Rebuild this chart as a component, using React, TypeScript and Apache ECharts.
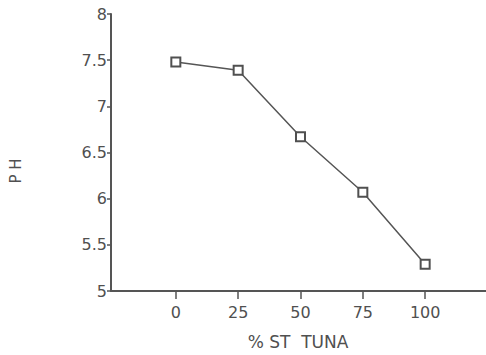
import React, { useEffect, useRef } from "react";
import * as echarts from "echarts";

const xValues = [0, 25, 50, 75, 100];
const phValues = [7.48, 7.39, 6.67, 6.07, 5.29];
const xTicks = [0, 25, 50, 75, 100];
const yTicks = [5, 5.5, 6, 6.5, 7, 7.5, 8];

export default function App() {
  const ref = useRef<HTMLDivElement>(null);
  useEffect(() => {
    if (!ref.current) return;
    const chart = echarts.init(ref.current, null, { renderer: "svg" });
    const axisColor = "#555";
    const textColor = "#505050";
    const font = "DejaVu Sans";
    chart.setOption({
      animation: false,
      backgroundColor: "#fff",
      grid: { left: 111, right: 0, top: 14, bottom: 64 },
      xAxis: {
        type: "value",
        min: -26,
        max: 124.4,
        splitLine: { show: false },
        axisLine: { show: true, onZero: false, lineStyle: { color: axisColor, width: 2 } },
        axisTick: {
          show: true,
          customValues: xTicks,
          length: 8,
          inside: false,
          lineStyle: { color: axisColor, width: 1.5 },
        },
        axisLabel: {
          customValues: xTicks,
          color: textColor,
          fontFamily: font,
          fontSize: 16,
          margin: 13,
        },
      },
      yAxis: {
        type: "value",
        min: 5,
        max: 8,
        interval: 0.5,
        splitLine: { show: false },
        axisLine: { show: true, onZero: false, lineStyle: { color: axisColor, width: 2 } },
        axisTick: { show: true, length: 4, lineStyle: { color: axisColor, width: 1.5 } },
        axisLabel: {
          color: textColor,
          fontFamily: font,
          fontSize: 16,
          margin: 4,
          formatter: (v: number) => (yTicks.includes(v) ? String(v) : ""),
        },
      },
      graphic: [
        {
          type: "text",
          x: 16,
          y: 171,
          rotation: Math.PI / 2,
          style: {
            text: "P H",
            fill: textColor,
            font: `15px "${font}"`,
            align: "center",
            verticalAlign: "middle",
          },
        },
        {
          type: "text",
          x: 298,
          y: 342,
          style: {
            text: "% ST  TUNA",
            fill: textColor,
            font: `17px "${font}"`,
            align: "center",
            verticalAlign: "middle",
          },
        },
      ],
      series: [
        {
          type: "line",
          data: xValues.map((x, i) => [x, phValues[i]]),
          symbol: "rect",
          symbolSize: 9,
          itemStyle: { color: "#fff", borderColor: "#505050", borderWidth: 2 },
          lineStyle: { color: "#555", width: 1.5 },
        },
      ],
    });
    return () => chart.dispose();
  }, []);
  return (
    <div
      ref={ref}
      style={{ position: "fixed", left: 0, top: 0, width: 486, height: 355 }}
    />
  );
}
